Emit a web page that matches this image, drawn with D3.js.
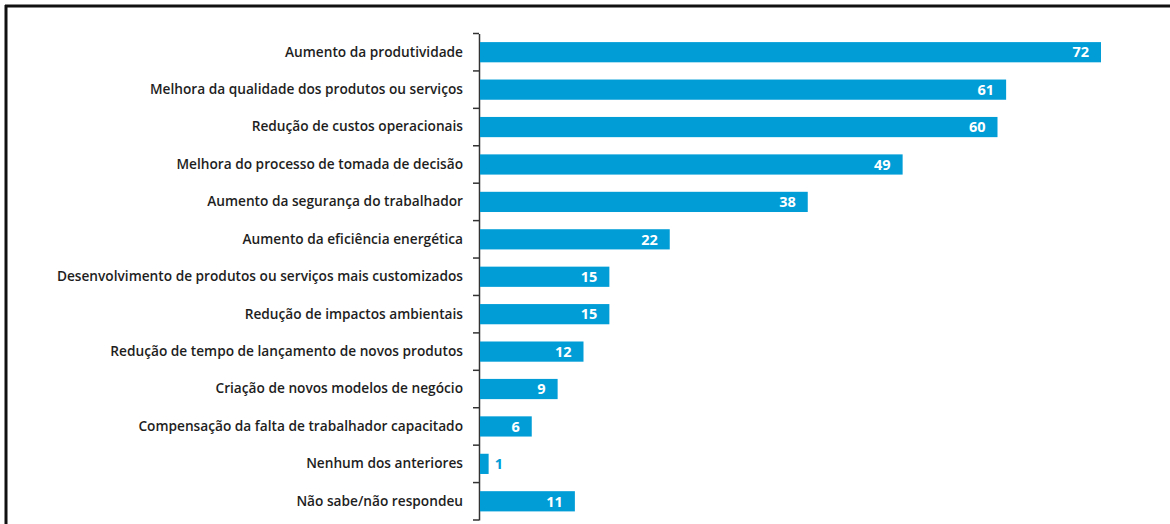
<!DOCTYPE html>
<html>
<head>
<meta charset="utf-8">
<script src="https://cdn.jsdelivr.net/npm/d3@7"></script>
<style>
  html, body { margin: 0; padding: 0; background: #fff; }
  svg { display: block; }
</style>
</head>
<body>
<svg id="chart" width="1170" height="524"></svg>
<script>
const categories = [
  "Aumento da produtividade",
  "Melhora da qualidade dos produtos ou serviços",
  "Redução de custos operacionais",
  "Melhora do processo de tomada de decisão",
  "Aumento da segurança do trabalhador",
  "Aumento da eficiência energética",
  "Desenvolvimento de produtos ou serviços mais customizados",
  "Redução de impactos ambientais",
  "Redução de tempo de lançamento de novos produtos",
  "Criação de novos modelos de negócio",
  "Compensação da falta de trabalhador capacitado",
  "Nenhum dos anteriores",
  "Não sabe/não respondeu"
];
const values = [72, 61, 60, 49, 38, 22, 15, 15, 12, 9, 6, 1, 11];

const svg = d3.select("#chart");
const W = 1170, H = 524;
const margin = { left: 479, top: 33.5, bottom: 4 };
const barColor = "#009dd7";

// frame lines (top and left)
svg.append("line").attr("x1", 5).attr("x2", W).attr("y1", 6).attr("y2", 6)
  .attr("stroke", "#111").attr("stroke-width", 3);
svg.append("line").attr("x1", 6).attr("x2", 6).attr("y1", 5).attr("y2", H)
  .attr("stroke", "#111").attr("stroke-width", 3);

const x = d3.scaleLinear().domain([0, 72]).range([margin.left + 1, 1101]);
const y = d3.scaleBand().domain(categories).range([margin.top, 520]).paddingInner(0.46).paddingOuter(0.23);

const data = categories.map((c, i) => ({ c, v: values[i] }));

// axis
const axis = d3.axisLeft(y).tickSize(0).tickPadding(16);
const gA = svg.append("g").attr("transform", `translate(${margin.left},0)`).call(axis);
gA.select(".domain").attr("stroke", "#333").attr("stroke-width", 1.5);
gA.selectAll(".tick text")
  .attr("font-family", "'Open Sans', sans-serif")
  .attr("font-size", 13.7)
  .attr("font-weight", 600)
  .attr("fill", "#1e1e1e");

// band boundary ticks
const bounds = d3.range(categories.length + 1).map(i => margin.top + i * ((520 - margin.top) / categories.length));
svg.append("g").selectAll("line").data(bounds).join("line")
  .attr("x1", margin.left - 6).attr("x2", margin.left)
  .attr("y1", d => d).attr("y2", d => d)
  .attr("stroke", "#333").attr("stroke-width", 1.5);

// bars
svg.append("g").selectAll("rect").data(data).join("rect")
  .attr("x", x(0))
  .attr("y", d => y(d.c))
  .attr("width", d => x(d.v) - x(0))
  .attr("height", y.bandwidth())
  .attr("fill", barColor);

// value labels
svg.append("g").selectAll("text").data(data).join("text")
  .attr("x", d => d.v < 3 ? x(d.v) + 6 : x(d.v) - 12)
  .attr("y", d => y(d.c) + y.bandwidth() / 2)
  .attr("dy", "0.36em")
  .attr("text-anchor", d => d.v < 3 ? "start" : "end")
  .attr("font-family", "'Open Sans', sans-serif")
  .attr("font-size", 14.5)
  .attr("font-weight", 700)
  .attr("fill", d => d.v < 3 ? barColor : "#fff")
  .text(d => d.v);
</script>
</body>
</html>
